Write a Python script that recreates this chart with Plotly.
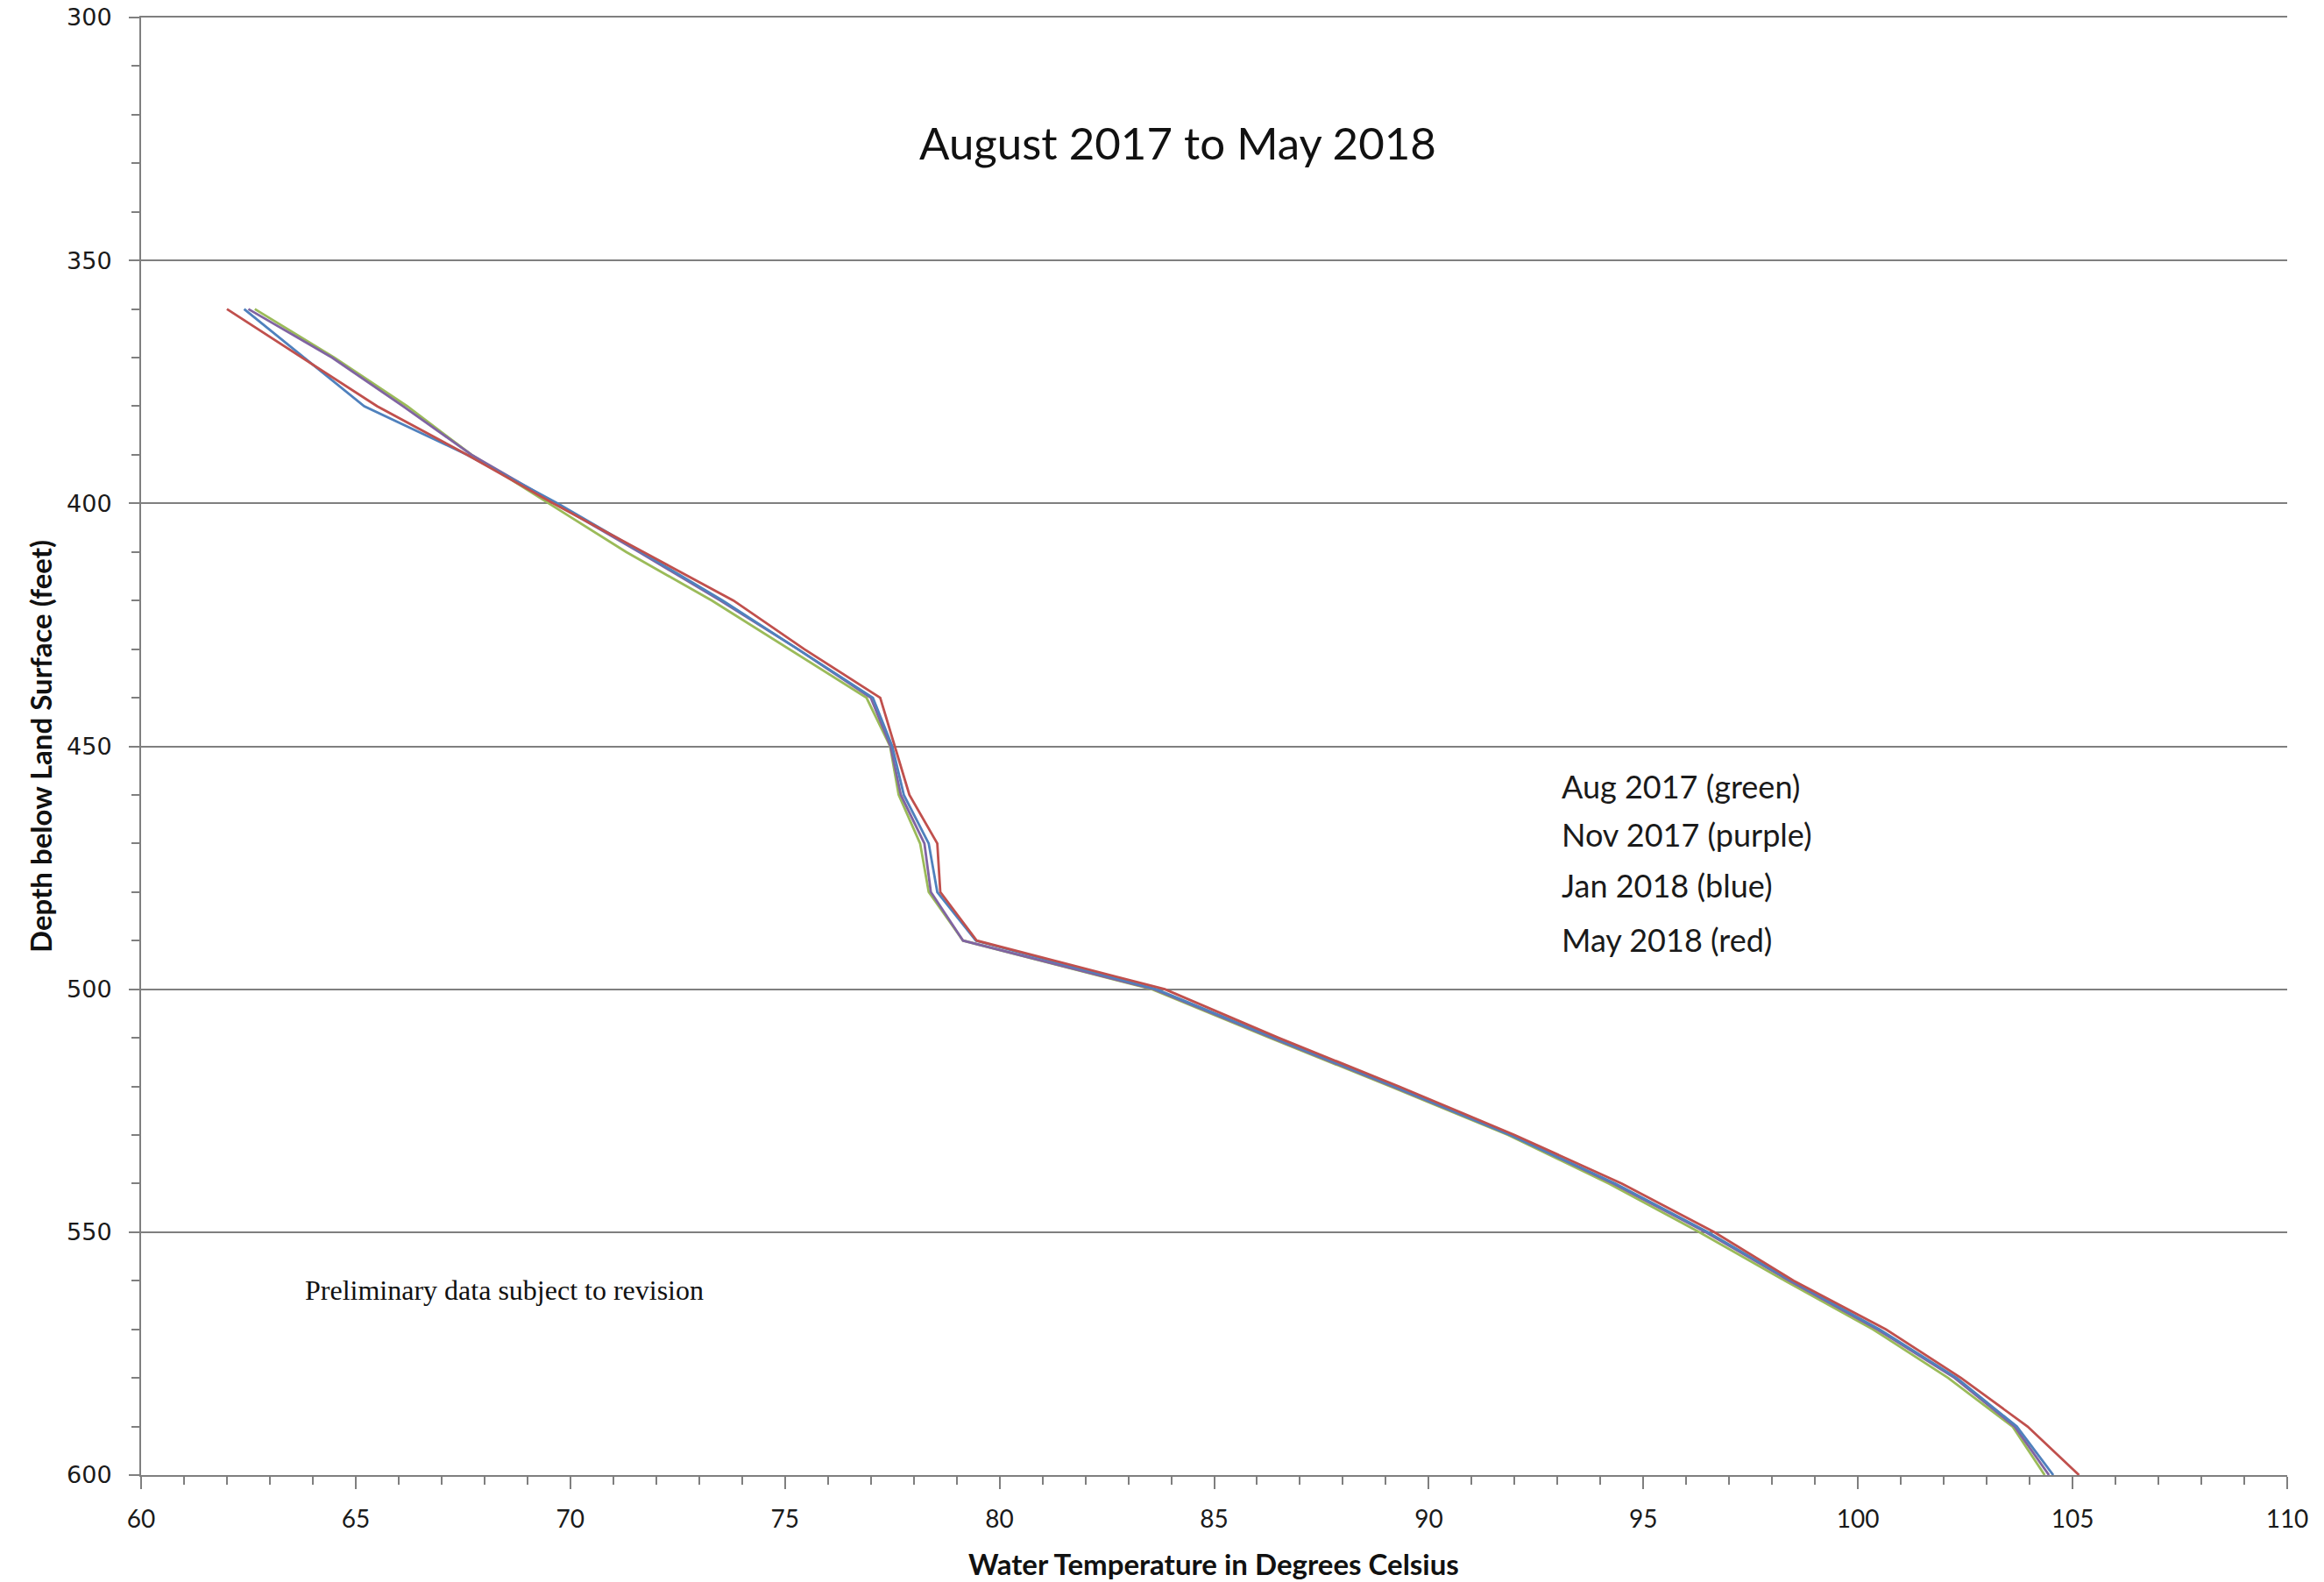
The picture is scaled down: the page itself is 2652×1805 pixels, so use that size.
import plotly.graph_objects as go

# ---- data ----
depth_ft = [360, 370, 380, 390, 400, 410, 420, 430, 440, 450, 460, 470, 480,
            490, 500, 510, 520, 530, 540, 550, 560, 570, 580, 590, 600]

temp_aug_2017 = [62.65, 64.5, 66.2, 67.7, 69.5, 71.3, 73.3, 75.1, 76.9, 77.45,
                 77.65, 78.15, 78.35, 79.15, 83.55, 86.3, 89.1, 91.85, 94.2,
                 96.3, 98.3, 100.35, 102.1, 103.6, 104.35]
temp_nov_2017 = [62.5, 64.45, 66.1, 67.7, 69.65, 71.6, 73.5, 75.3, 77.0, 77.46,
                 77.7, 78.25, 78.4, 79.15, 83.6, 86.35, 89.15, 91.9, 94.3,
                 96.45, 98.4, 100.45, 102.25, 103.65, 104.45]
temp_jan_2018 = [62.4, 63.8, 65.2, 67.6, 69.7, 71.65, 73.55, 75.3, 77.05, 77.5,
                 77.77, 78.35, 78.55, 79.45, 83.65, 86.4, 89.2, 91.9, 94.35,
                 96.5, 98.45, 100.5, 102.3, 103.7, 104.55]
temp_may_2018 = [62.0, 63.75, 65.5, 67.6, 69.6, 71.7, 73.8, 75.45, 77.22, 77.56,
                 77.9, 78.55, 78.62, 79.47, 83.85, 86.5, 89.3, 92.0, 94.5,
                 96.65, 98.5, 100.65, 102.4, 103.95, 105.15]

series_names = ["Aug 2017", "Nov 2017", "Jan 2018", "May 2018"]
series_colors = ["#9BBB59", "#8064A2", "#4F81BD", "#C0504D"]
series_values = [temp_aug_2017, temp_nov_2017, temp_jan_2018, temp_may_2018]

legend_labels = ["Aug 2017 (green)", "Nov 2017 (purple)",
                 "Jan 2018 (blue)", "May 2018 (red)"]

title_text = "August 2017 to May 2018"
x_title = "Water Temperature in Degrees Celsius"
y_title = "Depth below Land Surface (feet)"
note_text = "Preliminary data subject to revision"

# ---- figure ----
fig = go.Figure()
for name, color, vals in zip(series_names, series_colors, series_values):
    fig.add_trace(go.Scatter(x=vals, y=depth_ft, mode="lines", name=name,
                             line=dict(color=color, width=2.8)))

W, H = 2652, 1805
# plot area in page pixels: x 161..2610, y 20..1683
PX0, PX1, PY0, PY1 = 161, 2610, 20, 1683
L, T = PX0, PY0
R, B = W - PX1, H - PY1
axis_col = "#7F7F7F"

fig.update_layout(
    width=W, height=H,
    margin=dict(l=L, r=R, t=T, b=B, pad=0, autoexpand=False),
    paper_bgcolor="white", plot_bgcolor="white",
    showlegend=False,
)

fig.update_xaxes(
    range=[60, 110], dtick=5, tick0=60, automargin=False,
    showgrid=False, zeroline=False,
    showline=True, mirror=True, linecolor=axis_col, linewidth=2,
    ticks="outside", ticklen=14, tickwidth=2, tickcolor=axis_col,
    minor=dict(dtick=1, ticks="outside", ticklen=9, tickwidth=2,
               tickcolor=axis_col, showgrid=False),
    tickfont=dict(family="Lato", size=28, color="#1a1a1a"),
    ticklabelstandoff=10,
)
fig.update_yaxes(
    range=[600, 300], dtick=50, tick0=300, automargin=False,
    showgrid=True, gridcolor=axis_col, gridwidth=2,
    zeroline=False,
    showline=True, linecolor=axis_col, linewidth=2,
    ticks="outside", ticklen=12, tickwidth=2, tickcolor=axis_col,
    minor=dict(dtick=10, ticks="outside", ticklen=9, tickwidth=2,
               tickcolor=axis_col, showgrid=False),
    tickfont=dict(family="DejaVu Sans", size=27, color="#1a1a1a"),
    ticklabelstandoff=14,
)

pw = PX1 - PX0
ph = PY1 - PY0

def px(xf):
    return (xf - PX0) / pw

def py(yf):
    return 1 - (yf - PY0) / ph

ann = []
ann.append(dict(text=title_text, x=px(1344), y=py(162), xref="paper", yref="paper",
                showarrow=False, xanchor="center", yanchor="middle",
                font=dict(family="Lato", size=51, color="#111")))
for lab, yc in zip(legend_labels, [897, 952, 1010, 1072]):
    ann.append(dict(text=lab, x=px(1780), y=py(yc), xref="paper", yref="paper",
                    showarrow=False, xanchor="left", yanchor="middle",
                    font=dict(family="Lato", size=36, color="#1a1a1a")))
ann.append(dict(text=note_text, x=px(346), y=py(1472), xref="paper", yref="paper",
                showarrow=False, xanchor="left", yanchor="middle",
                font=dict(family="Liberation Serif", size=32, color="#111")))
ann.append(dict(text="<b>" + x_title + "</b>", x=px(1385), y=py(1784),
                xref="paper", yref="paper", showarrow=False,
                xanchor="center", yanchor="middle",
                font=dict(family="Lato", size=33, color="#111")))
ann.append(dict(text="<b>" + y_title + "</b>", x=px(46), y=py(852),
                xref="paper", yref="paper", showarrow=False, textangle=-90,
                xanchor="center", yanchor="middle",
                font=dict(family="Lato", size=33, color="#111")))
fig.update_layout(annotations=ann)

# remove the default 8px page margin so the figure sits at the window origin
fig.write_html("out.html",
               config={"displayModeBar": False},
               post_script="document.body.style.margin='0';"
                           "document.body.style.overflow='hidden';")
